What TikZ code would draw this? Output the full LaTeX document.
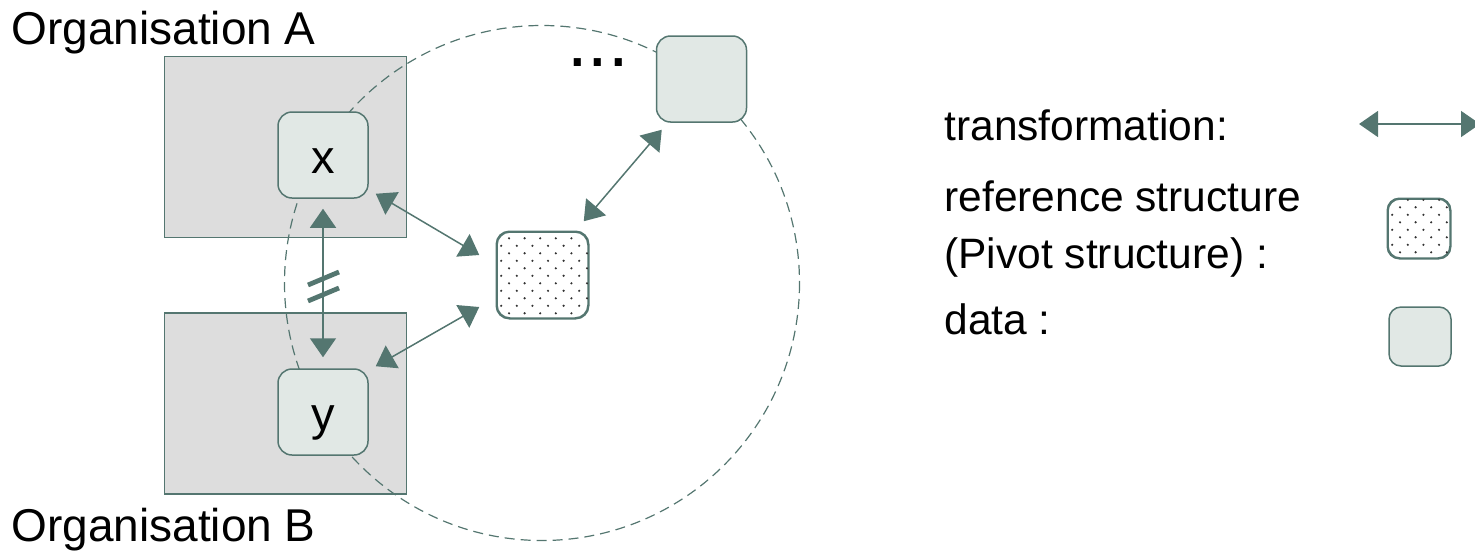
\documentclass[tikz,border=0pt]{standalone}
\usepackage{fontspec}
\setmainfont{Liberation Sans}
\usetikzlibrary{arrows.meta,calc}
\definecolor{edge}{RGB}{84,118,112}
\definecolor{datafill}{RGB}{225,232,229}
\definecolor{orgfill}{RGB}{221,221,221}
\definecolor{dotc}{RGB}{50,50,50}
\begin{document}
\begin{tikzpicture}[x=0.5pt,y=-0.5pt,
  orgbox/.style={draw=edge, fill=orgfill, line width=0.75pt, minimum width=121pt, minimum height=90.5pt, inner sep=0pt},
  databox/.style={draw=edge, fill=datafill, line width=0.75pt, rounded corners=7pt, minimum width=45pt, minimum height=43pt, inner sep=0pt, text height=18pt, text depth=0pt, font=\fontsize{23.5}{23.5}\selectfont},
  pivotbox/.style={draw=edge, fill=white, line width=0.75pt, rounded corners=6.5pt, minimum width=45.5pt, minimum height=43pt, inner sep=0pt},
  keybox/.style={line width=0.75pt, rounded corners=6pt, minimum width=31pt, minimum height=29.5pt, inner sep=0pt},
  link/.style={edge, line width=0.75pt, {Triangle[length=9.5pt,width=13pt]}-{Triangle[length=9.5pt,width=13pt]}},
  ring/.style={edge, line width=0.6pt, dash pattern=on 5pt off 3pt},
  orglabel/.style={font=\fontsize{23}{23}\selectfont, inner sep=0pt, anchor=base west},
  keylabel/.style={font=\fontsize{21.25}{21.25}\selectfont, inner sep=0pt, anchor=base west},
]
\useasboundingbox (0,0) rectangle (1475,552);

% organisations
\node[orgbox] (orgA) at (285.5,147) {};
\node[orgbox] (orgB) at (285.5,403.5) {};
\node[orglabel] (labA) at (11,44) {Organisation A};
\node[orglabel] (labB) at (11,541) {Organisation B};

% circle of exchanged data
\draw[ring] (542,283) circle[radius=257.5];

% data items
\node[databox] (x) at (323,155) {x};
\node[databox] (y) at (323,412) {y};
\node[databox] (other) at (701.5,79) {};
\node[keylabel, font=\fontsize{37}{37}\selectfont] (more) at (567,66) {...};

% pivot structure with stipple
\node[pivotbox] (pivot) at (542.5,275) {};
\begin{scope}
  \clip[rounded corners=6.5pt] (pivot.south west) rectangle (pivot.north east);
  \foreach \j in {0,...,12}{
    \foreach \i in {0,...,6}{
      \fill[dotc] ({493.4+7.8*mod(\j+1,2)+15.6*\i},{230.8+7.5*\j}) circle[radius=1.2];
    }
  }
\end{scope}
\draw[edge, line width=0.75pt, rounded corners=6.5pt] (pivot.south west) rectangle (pivot.north east);

% transformations
\draw[link] ($(x.south)+(0,10)$) -- ($(y.north)+(0,-11)$);
\draw[edge, line width=2.4pt] (308,285) -- (339,272);
\draw[edge, line width=2.4pt] (308,301) -- (339,288);
\draw[link] ($(x.south east)+(7,-5)$) -- ($(pivot.west)+(-17,-20)$);
\draw[link] ($(y.north east)+(7,-2)$) -- ($(pivot.west)+(-17,32)$);
\draw[link] ($(pivot.north east)+(-5,-10)$) -- ($(other.south west)+(6,7)$);

% legend
\node[keylabel] (ktrans) at (944,140) {transformation:};
\coordinate (kt1) at (1359,124);
\coordinate (kt2) at (1480,124);
\draw[link] (kt1) -- (kt2);

\node[keylabel] (kref) at (944,211) {reference structure};
\node[keylabel] (kpiv) at (944,268) {(Pivot structure) :};
\node[keybox, draw=edge, fill=white] (kpivot) at (1419,228.5) {};
\begin{scope}
  \clip[rounded corners=6pt] (kpivot.south west) rectangle (kpivot.north east);
  \foreach \j in {0,...,8}{
    \foreach \i in {0,...,4}{
      \fill[dotc] ({1384.4+7.8*mod(\j+1,2)+15.6*\i},{199.8+7.5*\j}) circle[radius=1.2];
    }
  }
\end{scope}
\draw[edge, line width=0.75pt, rounded corners=6pt] (kpivot.south west) rectangle (kpivot.north east);

\node[keylabel] (kdata) at (944,334) {data :};
\node[keybox, draw=edge, fill=datafill] (kdatabox) at (1420,336.5) {};
\end{tikzpicture}
\end{document}
